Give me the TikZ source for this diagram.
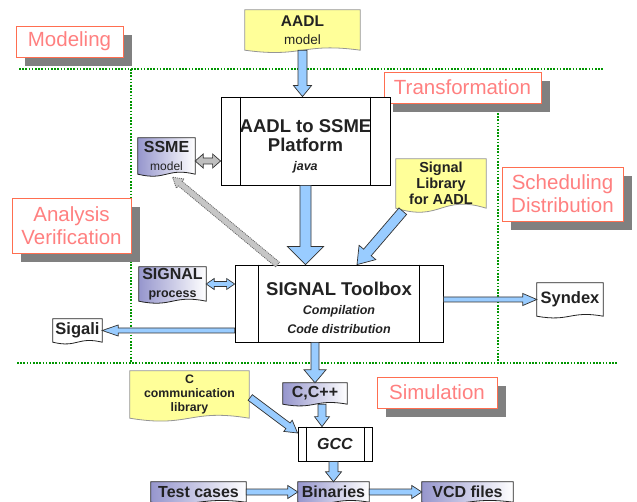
\documentclass[tikz,border=0pt]{standalone}
\usepackage{fontspec}
\setmainfont{Liberation Sans}
\usetikzlibrary{calc,backgrounds,shadows}

\definecolor{zonetext}{RGB}{255,128,128}
\definecolor{zoneframe}{RGB}{255,110,80}
\definecolor{zoneline}{RGB}{0,150,0}
\definecolor{padgray}{RGB}{128,128,128}
\definecolor{noteyellow}{RGB}{255,255,153}
\definecolor{notegray}{RGB}{150,150,150}
\definecolor{fileblue}{RGB}{150,150,205}
\definecolor{flowblue}{RGB}{153,204,255}
\definecolor{inkgray}{RGB}{34,34,34}

\tikzset{
  zone/.style={draw=zoneframe, fill=white, text=zonetext, align=center, inner sep=0pt,
    font=\fontsize{20.5}{23}\selectfont,
    drop shadow={shadow xshift=9pt, shadow yshift=-9pt, fill=padgray, opacity=1}},
  zoneline/.style={draw=zoneline, line width=1.1pt, dash pattern=on 1.6pt off 1.6pt},
  file/.style={inner sep=0pt, align=center, text=inkgray, font=\bfseries\fontsize{16}{18}\selectfont},
  process/.style={draw=black, fill=white, inner sep=0pt, align=center, text=inkgray, line width=0.8pt},
  flow/.style={draw=black!80, fill=flowblue, line width=0.7pt, line join=miter},
  grayflow/.style={draw=black!80, fill=gray!50, line width=0.7pt, line join=miter},
  hatchflow/.style={draw=black!60, fill=gray!45, line width=0.8pt, dash pattern=on 1pt off 1pt},
}

% wavy document outline round a node
\newcommand{\fileoutline}[3]{%
  \path[#3] (#1.north west) -- (#1.north east) -- (#1.south east)
    .. controls ($(#1.south)+(0,-#2)$) and ($(#1.south)+(0,#2)$) .. (#1.south west) -- cycle;}

% the two bars of a process box
\newcommand{\procbars}[2]{%
  \draw[line width=0.8pt] ([xshift=#2pt]#1.north west) -- ([xshift=#2pt]#1.south west)
    ([xshift=-#2pt]#1.north east) -- ([xshift=-#2pt]#1.south east);}

% block arrow: from, to, half shaft, half head, head length
\newcommand{\fatarrow}[6][flow]{%
  \coordinate (fa-a) at (#2);
  \coordinate (fa-b) at (#3);
  \coordinate (fa-h) at ($(fa-b)!#6pt!(fa-a)$);
  \path[#1] ($(fa-a)!#4pt!90:(fa-b)$) -- ($(fa-h)!#4pt!90:(fa-b)$) -- ($(fa-h)!#5pt!90:(fa-b)$)
    -- (fa-b) -- ($(fa-h)!#5pt!-90:(fa-b)$) -- ($(fa-h)!#4pt!-90:(fa-b)$)
    -- ($(fa-a)!#4pt!-90:(fa-b)$) -- cycle;}

% block arrow with two heads
\newcommand{\fatdarrow}[6][flow]{%
  \coordinate (fa-a) at (#2);
  \coordinate (fa-b) at (#3);
  \coordinate (fa-h) at ($(fa-b)!#6pt!(fa-a)$);
  \coordinate (fa-g) at ($(fa-a)!#6pt!(fa-b)$);
  \path[#1] (fa-a) -- ($(fa-g)!#5pt!90:(fa-b)$) -- ($(fa-g)!#4pt!90:(fa-b)$)
    -- ($(fa-h)!#4pt!90:(fa-b)$) -- ($(fa-h)!#5pt!90:(fa-b)$) -- (fa-b)
    -- ($(fa-h)!#5pt!-90:(fa-b)$) -- ($(fa-h)!#4pt!-90:(fa-b)$)
    -- ($(fa-g)!#4pt!-90:(fa-b)$) -- ($(fa-g)!#5pt!-90:(fa-b)$) -- cycle;}

\begin{document}
\begin{tikzpicture}[x=1pt, y=-1pt]
\useasboundingbox (0,0) rectangle (637,502);
\clip (0,0) rectangle (637,502);

% zones
\draw[zoneline] (19,69) -- (603,69);
\draw[zoneline] (131,69) -- (131,363);
\draw[zoneline] (498,113) -- (498,363);
\draw[zoneline] (17,363) -- (617,363);

\node[zone, minimum width=107, minimum height=31] (modeling) at (69.5,41.5) {Modeling};
\node[zone, minimum width=157, minimum height=31] (transformation) at (462.5,87.5) {Transformation};
\node[zone, minimum width=119, minimum height=55] (analysis) at (71.5,225.5) {Analysis\\Verification};
\node[zone, minimum width=121, minimum height=54] (scheduling) at (562.5,194) {Scheduling\\Distribution};
\node[zone, minimum width=120, minimum height=31] (simulation) at (437,392.5) {Simulation};

% tools
\node[process, minimum width=169, minimum height=88, font=\bfseries\fontsize{18.5}{19}\selectfont]
  (platform) at (305.5,141) {\mbox{}\\[5pt]AADL to SSME\\Platform\\{\fontsize{12.5}{13}\selectfont\itshape java}};
\node[process, minimum width=208, minimum height=77, font=\bfseries\fontsize{18.5}{19}\selectfont]
  (toolbox) at (339,303.5) {\mbox{}\\[3pt]SIGNAL Toolbox\\{\fontsize{12.5}{14}\selectfont\itshape Compilation}\\{\fontsize{12.5}{14}\selectfont\itshape Code distribution}};
\node[process, minimum width=74, minimum height=34, font=\bfseries\itshape\fontsize{16}{18}\selectfont]
  (gcc) at (335,444) {GCC};
\procbars{platform}{20}
\procbars{toolbox}{24}
\procbars{gcc}{8.5}

% files
\node[file, minimum width=115, minimum height=40] (aadlmodel) at (302.5,30)
  {\fontsize{15.5}{17}\selectfont AADL\\{\mdseries\fontsize{13.5}{15}\selectfont model}};
\node[file, minimum width=57, minimum height=36] (ssme) at (166.5,156)
  {SSME\\{\mdseries\fontsize{12}{14}\selectfont model}};
\node[file, minimum width=90, minimum height=49, font=\bfseries\fontsize{14.5}{16}\selectfont] (siglib) at (441,183.5)
  {Signal\\Library\\for AADL};
\node[file, minimum width=67, minimum height=34] (sigproc) at (172.5,284)
  {SIGNAL\\{\fontsize{12.5}{14}\selectfont process}};
\node[file, minimum width=49, minimum height=23, font=\bfseries\fontsize{16.5}{18}\selectfont] (sigali) at (77.5,330.5) {Sigali};
\node[file, minimum width=66, minimum height=33, font=\bfseries\fontsize{16.5}{18}\selectfont] (syndex) at (570,299.5) {Syndex};
\node[file, minimum width=119, minimum height=47, font=\bfseries\fontsize{12.3}{14}\selectfont] (clib) at (189.5,394.5)
  {C\\communication\\library};
\node[file, minimum width=64, minimum height=21] (ccpp) at (315,393.5) {C,C++};
\node[file, minimum width=95, minimum height=20] (testcases) at (198.5,492) {Test cases};
\node[file, minimum width=71, minimum height=20] (binaries) at (333.5,492) {Binaries};
\node[file, minimum width=91, minimum height=20] (vcd) at (467.5,492) {VCD files};

\begin{scope}[on background layer]
\fileoutline{aadlmodel}{8}{fill=noteyellow, draw=notegray, line width=0.8pt}
\fileoutline{siglib}{14}{fill=noteyellow, draw=notegray, line width=0.8pt}
\fileoutline{clib}{10}{fill=noteyellow, draw=notegray, line width=0.8pt}
\fileoutline{ssme}{7}{left color=fileblue, right color=white, draw=inkgray, line width=0.8pt}
\fileoutline{sigproc}{7}{left color=fileblue, right color=white, draw=inkgray, line width=0.8pt}
\fileoutline{ccpp}{6}{left color=fileblue, right color=white, draw=inkgray, line width=0.8pt}
\fileoutline{testcases}{6}{left color=fileblue, right color=white, draw=inkgray, line width=0.8pt}
\fileoutline{binaries}{6}{left color=fileblue, right color=white, draw=inkgray, line width=0.8pt}
\fileoutline{vcd}{6}{left color=fileblue, right color=white, draw=inkgray, line width=0.8pt}
\fileoutline{sigali}{6}{fill=white, draw=inkgray, line width=0.8pt}
\fileoutline{syndex}{6}{fill=white, draw=inkgray, line width=0.8pt}
\end{scope}

% flows
\fatarrow{aadlmodel.south}{aadlmodel.south |- platform.north}{4.5}{9}{11}
\fatarrow{platform.south}{platform.south |- toolbox.north}{5.5}{18}{18}
\fatarrow{$(siglib.south west)+(7,3)$}{$(toolbox.north)+(18,0)$}{5}{11}{16}
\fatdarrow[grayflow]{$(ssme.east)+(0,5)$}{$(ssme.east -| platform.west)+(0,5)$}{3}{7}{8}
\fatarrow[hatchflow]{$(toolbox.north west)+(43,0)$}{$(ssme.south)+(6,3)$}{3}{6}{10}
\fatdarrow{sigproc.east}{sigproc.east -| toolbox.west}{2.5}{5.5}{8}
\fatarrow{toolbox.west |- sigali.east}{sigali.east}{2.5}{5.5}{16}
\fatarrow{toolbox.east |- syndex.west}{syndex.west}{2.5}{6}{14}
\fatarrow{ccpp.north |- toolbox.south}{ccpp.north}{4}{11}{13}
\fatarrow{$(ccpp.south)+(7,0)$}{$(gcc.north)+(-13,0)$}{4}{7.5}{10}
\fatarrow{$(clib.east)+(1,3)$}{$(gcc.west)+(0,-11)$}{3.5}{7}{12}
\fatarrow{binaries.north |- gcc.south}{binaries.north}{4.5}{8}{10}
\fatarrow{testcases.east}{binaries.west}{3}{6.5}{10}
\fatarrow{binaries.east}{vcd.west}{3}{6.5}{10}
\end{tikzpicture}
\end{document}
